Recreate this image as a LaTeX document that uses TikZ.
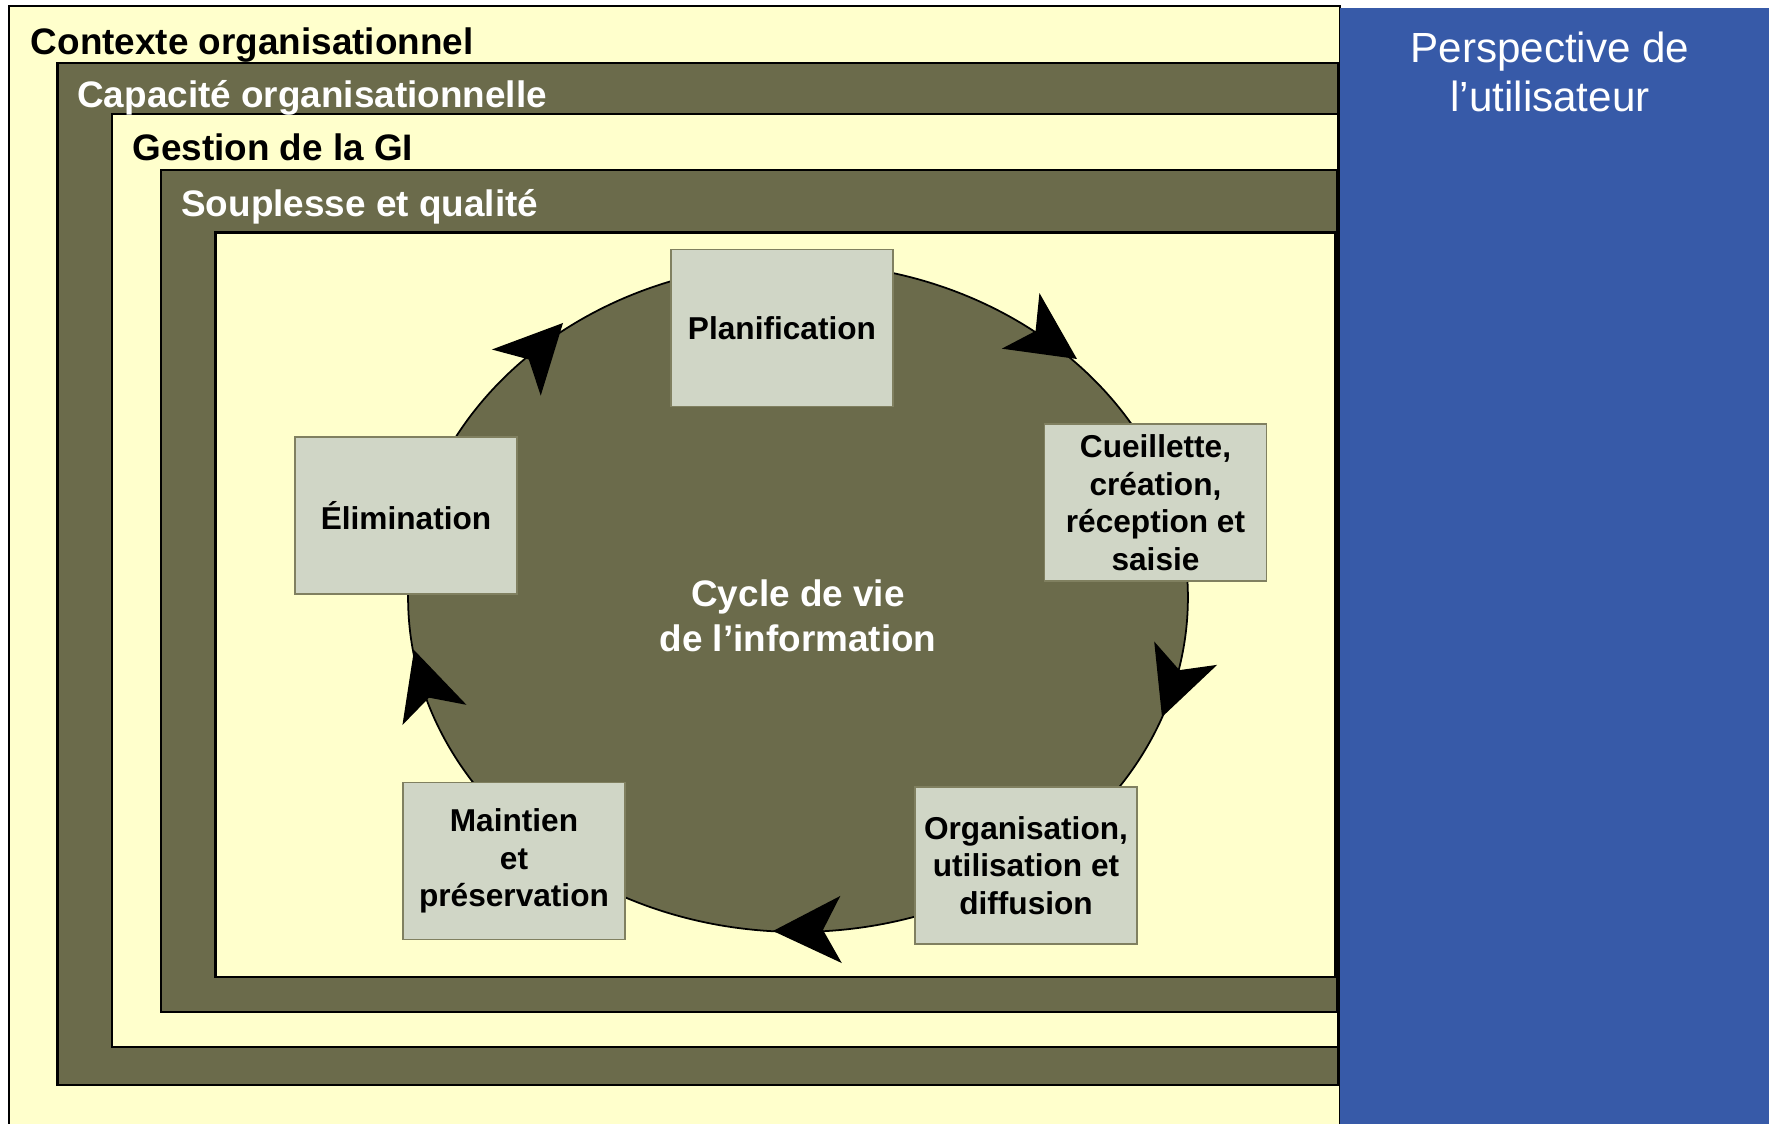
\documentclass[tikz,border=0pt]{standalone}
\usepackage{fontspec}
\setmainfont{Liberation Sans}
\usetikzlibrary{arrows.meta,shapes.geometric}
\definecolor{paleyellow}{RGB}{255,255,204}
\definecolor{olivegray}{RGB}{107,107,75}
\definecolor{stagefill}{RGB}{208,214,198}
\definecolor{stageedge}{RGB}{128,128,96}
\definecolor{userblue}{RGB}{55,90,168}

\begin{document}
\begin{tikzpicture}[x=0.02cm,y=-0.02cm]
 \tikzset{band/.style = {draw=black,line width=1.2pt}}
 \tikzset{bandlabel/.style = {anchor=base west,inner sep=0pt,font=\bfseries\fontsize{21}{25}\selectfont}}
 \tikzset{stage/.style = {draw=stageedge,fill=stagefill,line width=1pt,minimum width=4.44cm,minimum height=3.14cm,inner sep=0pt,align=center,font=\bfseries\fontsize{18}{21.4}\selectfont}}
 \tikzset{cyclearrow/.style = {-{Stealth[length=1.36cm,width=1.34cm,inset=0.36cm]},line width=0.8pt}}
 \useasboundingbox (0,0) rectangle (1769,1124);

 % nested frames
 \draw[band,fill=paleyellow] (9,6) rectangle (1340,1135);
 \draw[band,fill=olivegray] (57.5,63) rectangle (1338,1085);
 \draw[band,fill=paleyellow] (111.7,114) rectangle (1338,1047);
 \draw[band,fill=olivegray] (161,170) rectangle (1337,1012);
 \draw[band,fill=paleyellow] (215.5,232.5) rectangle (1335,977);

 \node[bandlabel] (contexte) at (30.5,55) {Contexte organisationnel};
 \node[bandlabel,white] (capacite) at (77,108) {Capacité organisationnelle};
 \node[bandlabel] (gestion) at (132,161) {Gestion de la GI};
 \node[bandlabel,white] (souplesse) at (181,216.5) {Souplesse et qualité};

 % the cycle
 \node[ellipse,draw=black,fill=olivegray,line width=1pt,minimum width=15.6cm,minimum height=13.38cm,inner sep=0pt] (cycle) at (798,597.5) {};
 \node[white,align=center,font=\bfseries\fontsize{21}{25.6}\selectfont] (cyclelabel) at (798,616) {Cycle de vie\\de l’information};

 \coordinate (a1) at (1035.6,331);   \coordinate (b1) at (1077,359);
 \coordinate (a2) at (1179.4,670.1); \coordinate (b2) at (1162,717);
 \coordinate (a3) at (823,929.9);    \coordinate (b3) at (773,931);
 \coordinate (a4) at (429,697.6);    \coordinate (b4) at (414,650);
 \coordinate (a5) at (528.7,359.4);  \coordinate (b5) at (563,323);
 \foreach \i in {1,...,5}
  \draw[cyclearrow] (a\i) -- (b\i);

 \node[stage] (planif) at (782,328) {Planification};
 \node[stage] (cueil) at (1155.5,502.5) {Cueillette,\\création,\\réception et\\saisie};
 \node[stage] (organis) at (1026,865.5) {Organisation,\\utilisation et\\diffusion};
 \node[stage] (maintien) at (514,861) {Maintien\\et\\préservation};
 \node[stage] (elim) at (406,515.6) {Élimination};

 % user side
 \fill[userblue] (1340,8) rectangle (1775,1135);
 \node[white,align=center,font=\fontsize{24}{27.6}\selectfont] (perspective) at (1550,72) {Perspective de\\l’utilisateur};
\end{tikzpicture}
\end{document}
